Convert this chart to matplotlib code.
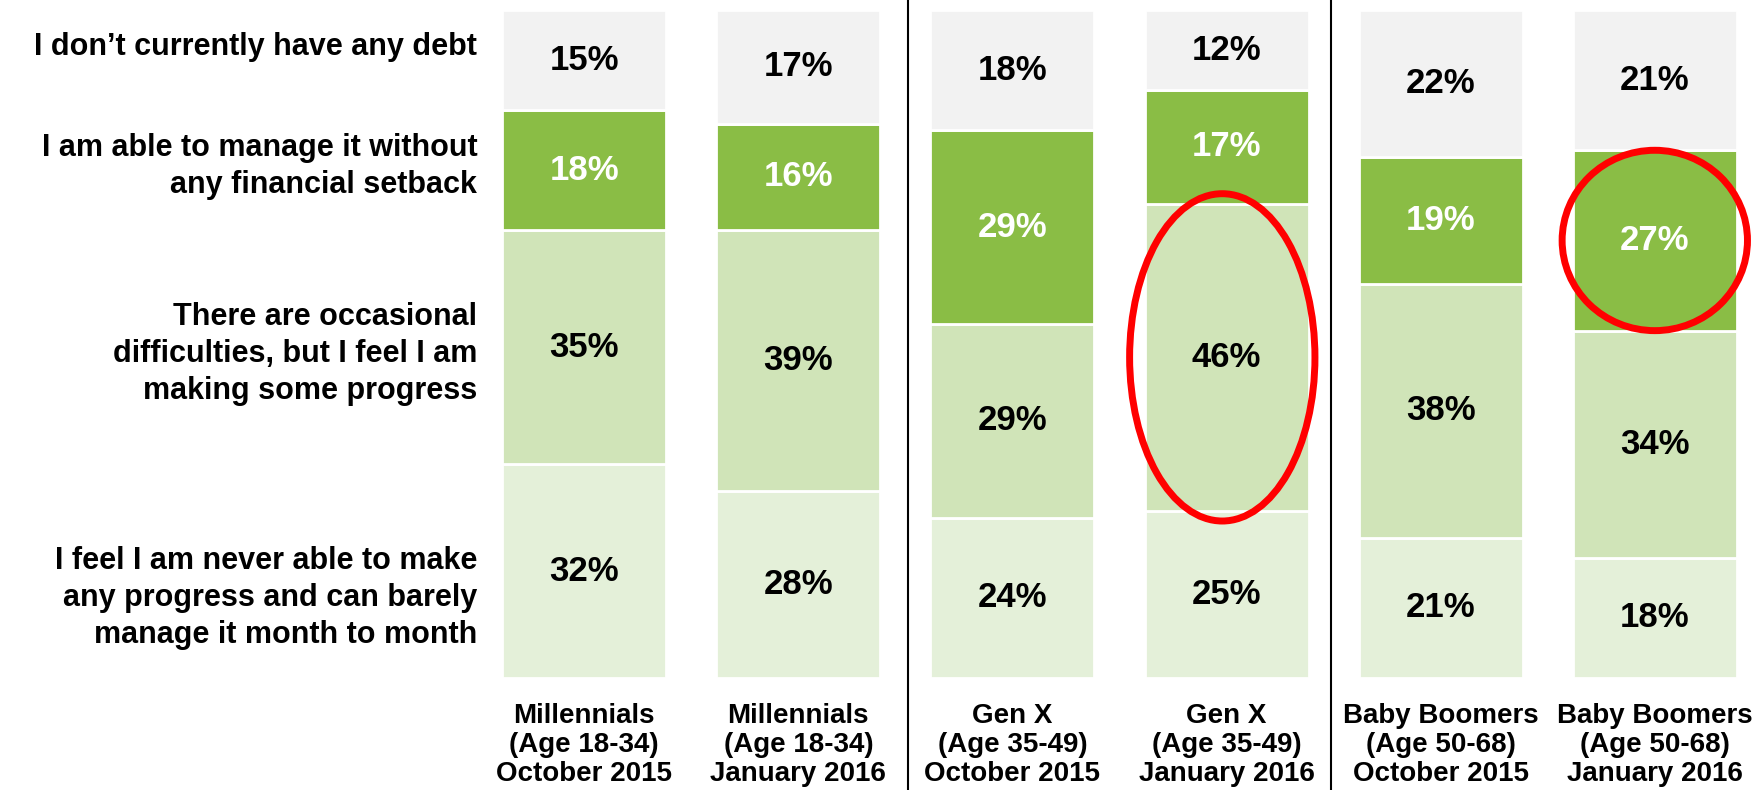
import matplotlib.pyplot as plt
from matplotlib.patches import Ellipse

plt.rcParams['font.family'] = ['Liberation Sans Narrow', 'Liberation Sans', 'DejaVu Sans']
plt.rcParams['font.weight'] = 'bold'

# ==== data ====
groups = ['Millennials\n(Age 18-34)\nOctober 2015', 'Millennials\n(Age 18-34)\nJanuary 2016',
          'Gen X\n(Age 35-49)\nOctober 2015', 'Gen X\n(Age 35-49)\nJanuary 2016',
          'Baby Boomers\n(Age 50-68)\nOctober 2015', 'Baby Boomers\n(Age 50-68)\nJanuary 2016']
never_prog = [32, 28, 24, 25, 21, 18]
occasional = [35, 39, 29, 46, 38, 34]
manage_ok = [18, 16, 29, 17, 19, 27]
no_debt = [15, 17, 18, 12, 22, 21]

answers = ['I feel I am never able to make\nany progress and can barely\nmanage it month to month',
           'There are occasional\ndifficulties, but I feel I am\nmaking some progress',
           'I am able to manage it without\nany financial setback',
           'I don\u2019t currently have any debt']
answer_y = [12, 48.5, 76.6, 94.5]   # where the left labels sit

series = [never_prog, occasional, manage_ok, no_debt]
colors = ['#E4F0D9', '#D0E4B8', '#8ABD45', '#F2F2F2']
txt_col = ['black', 'black', 'white', 'black']

# highlighted segments: (bar, series, x shift, extra height)
circled = [(3, 1, -0.02, 3), (5, 2, 0.0, 0)]

W, H = 1764, 790
fig = plt.figure(figsize=(W / 100, H / 100), dpi=100)
ax = fig.add_axes([490 / W, 112 / H, (W - 490) / W, 668 / H])

x = list(range(len(groups)))
bw = 0.766
bottom = [0] * len(groups)
for s, vals in enumerate(series):
    ax.bar(x, vals, bw, bottom=bottom, color=colors[s], edgecolor='white', linewidth=2)
    for j, v in enumerate(vals):
        ax.text(x[j], bottom[j] + v / 2, f'{v}%', ha='center', va='center',
                fontsize=25, fontweight='bold', color=txt_col[s])
    bottom = [b + v for b, v in zip(bottom, vals)]

# red circles
for j, s, dx, dh in circled:
    base = sum(series[k][j] for k in range(s))
    v = series[s][j]
    ax.add_patch(Ellipse((x[j] + dx, base + v / 2), bw * 1.13, v + dh,
                         fill=False, edgecolor='#FF0000', linewidth=5, zorder=5, clip_on=False))

# group dividers
for d in [1.51, 3.49]:
    ax.axvline(d, ymin=-0.17, ymax=1.02, color='black', linewidth=1.5, clip_on=False)

for t, yv in zip(answers, answer_y):
    ax.text(-0.50, yv, t, ha='right', va='center', fontsize=22, fontweight='bold',
            linespacing=1.3)

ax.set_xlim(-0.44, 5.51)
ax.set_ylim(0, 100)
ax.set_xticks(x)
ax.set_xticklabels(groups, fontsize=20, fontweight='bold', linespacing=1.15)
ax.tick_params(axis='x', length=0, pad=18)
ax.set_yticks([])
for sp in ax.spines.values():
    sp.set_visible(False)

fig.savefig('out.png', dpi=100)
